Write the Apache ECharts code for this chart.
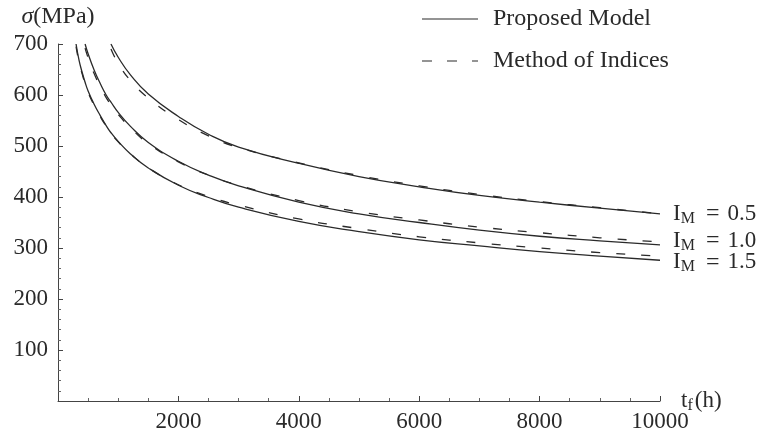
<!DOCTYPE html>
<html>
<head>
<meta charset="utf-8">
<script src="https://cdn.jsdelivr.net/npm/echarts@6/dist/echarts.min.js"></script>
<style>
html,body{margin:0;padding:0;background:#fff;}
#chart{width:761px;height:434px;}
</style>
</head>
<body>
<div id="chart"></div>
<script>
// Failure time grid (h)
const tGrid = [300, 350, 400, 450, 500, 600, 700, 800, 880, 1000, 1200, 1500, 2000, 2500, 3000, 4000, 5000, 6000, 7000, 8000, 9000, 10000];

// Proposed Model (solid) stress values, MPa
const solid05 = [null, null, null, null, null, null, null, null, 700, 674, 640, 602, 558, 523, 498, 466, 440, 420, 403, 390, 378, 367];
const solid10 = [null, null, null, 700, 681, 649, 623, 600, 586, 566, 539, 507, 470, 443, 422, 390, 367, 350, 335, 323, 314, 306];
const solid15 = [700, 668, 645, 625, 608, 582, 560, 540, 526, 509, 485, 457, 423, 399, 380, 352, 332, 316, 304, 293, 284, 276];

// Method of Indices (dashed) stress values, MPa
const dashed05 = [null, null, null, null, null, null, null, null, 690, 662, 629, 594, 552, 520, 497, 467, 442, 422, 405, 391, 379, 367];
const dashed10 = [null, null, null, 692, 673, 642, 617, 595, 581, 562, 536, 505, 469, 443, 423, 393, 371, 355, 341, 330, 320, 312];
const dashed15 = [695, 664, 642, 622, 605, 580, 558, 539, 525, 508, 485, 457, 424, 401, 384, 357, 338, 322, 310, 300, 291, 284];

const imLabels = ['0.5', '1.0', '1.5'];
const legendNames = ['Proposed Model', 'Method of Indices'];

const SERIF = '"Liberation Serif", "DejaVu Serif", serif';
const INK = '#2a2a2a';

function pairs(vals) {
  const out = [];
  tGrid.forEach((t, i) => { if (vals[i] != null) out.push([t, vals[i]]); });
  return out;
}

const labelRich = {
  i: {fontFamily: SERIF, fontSize: 23, color: INK},
  m: {fontFamily: SERIF, fontSize: 16, color: INK, padding: [10, 0, 0, 0]},
  e: {fontFamily: SERIF, fontSize: 24, color: INK, padding: [0, 8, 0, 11]},
  v: {fontFamily: SERIF, fontSize: 23, color: INK}
};

function solidSeries(vals, lab, dy) {
  return {
    name: legendNames[0], type: 'line', data: pairs(vals), smooth: true, symbol: 'none',
    lineStyle: {color: INK, width: 1.3}, itemStyle: {color: INK},
    endLabel: {show: true, distance: 13, offset: [0, dy], formatter: () => '{i|I}{m|M}{e|=}{v|' + lab + '}', rich: labelRich},
    z: 3
  };
}
function dashedSeries(vals) {
  return {
    name: legendNames[1], type: 'line', data: pairs(vals), smooth: true, symbol: 'none',
    lineStyle: {color: INK, width: 1.3, type: [9, 16]}, itemStyle: {color: INK}, z: 2
  };
}

const chart = echarts.init(document.getElementById('chart'), null, {renderer: 'canvas'});
const option = {
  animation: false,
  backgroundColor: '#fff',
  grid: {left: 58, right: 101, top: 44, bottom: 33},
  xAxis: {
    type: 'value', min: 0, max: 10000, interval: 2000,
    name: '{t|t}{f|f}{t|(h)}', nameLocation: 'end', nameGap: 21, nameMoveOverlap: false,
    nameTextStyle: {fontFamily: SERIF, fontSize: 23, color: INK, verticalAlign: 'middle', align: 'left',
      rich: {t: {fontFamily: SERIF, fontSize: 23, color: INK}, f: {fontFamily: SERIF, fontSize: 16, color: INK, padding: [10, 2, 0, 0]}}},
    axisLine: {lineStyle: {color: '#444', width: 1}},
    axisTick: {inside: true, length: 5, lineStyle: {color: '#444'}},
    minorTick: {show: true, splitNumber: 4, length: 3, lineStyle: {color: '#666'}},
    axisLabel: {formatter: v => v === 0 ? '' : String(v), fontFamily: SERIF, fontSize: 23, color: INK, margin: 9},
    splitLine: {show: false}
  },
  yAxis: {
    type: 'value', min: 0, max: 700, interval: 100,
    name: '{s|σ}{p|(MPa)}', nameLocation: 'end', nameGap: 15, nameMoveOverlap: false,
    nameTextStyle: {fontFamily: SERIF, fontSize: 24, color: INK,
      rich: {s: {fontFamily: SERIF, fontStyle: 'italic', fontSize: 24, color: INK}, p: {fontFamily: SERIF, fontSize: 24, color: INK}}},
    axisLine: {show: true, lineStyle: {color: '#444', width: 1}},
    axisTick: {show: true, inside: true, length: 5, lineStyle: {color: '#444'}},
    minorTick: {show: true, splitNumber: 5, length: 3, lineStyle: {color: '#666'}},
    axisLabel: {formatter: v => v === 0 ? '' : String(v), fontFamily: SERIF, fontSize: 23, color: INK, margin: 10},
    splitLine: {show: false}
  },
  graphic: [
    {type: 'line', shape: {x1: 422, y1: 19, x2: 478, y2: 19}, style: {stroke: INK, lineWidth: 1.2}},
    {type: 'text', x: 493, y: 19, style: {text: legendNames[0], font: '24px ' + SERIF, fill: INK, textVerticalAlign: 'middle'}},
    {type: 'line', shape: {x1: 422, y1: 61, x2: 478, y2: 61}, style: {stroke: INK, lineWidth: 1.2, lineDash: [10, 15]}},
    {type: 'text', x: 493, y: 61, style: {text: legendNames[1], font: '24px ' + SERIF, fill: INK, textVerticalAlign: 'middle'}}
  ],
  series: [
    dashedSeries(dashed05), dashedSeries(dashed10), dashedSeries(dashed15),
    solidSeries(solid05, imLabels[0], 0), solidSeries(solid10, imLabels[1], -4), solidSeries(solid15, imLabels[2], 2)
  ]
};
chart.setOption(option);
</script>
</body>
</html>
